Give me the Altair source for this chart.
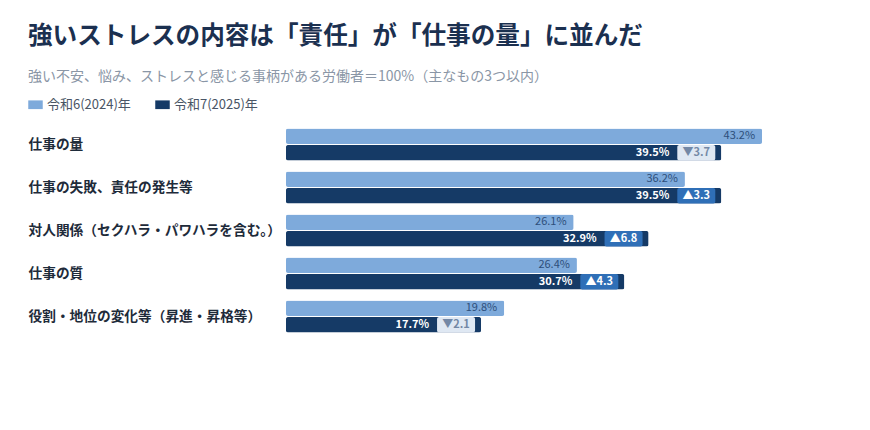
import altair as alt
import pandas as pd

categories = [
    "仕事の量",
    "仕事の失敗、責任の発生等",
    "対人関係（セクハラ・パワハラを含む。）",
    "仕事の質",
    "役割・地位の変化等（昇進・昇格等）",
]
years = ["令和6(2024)年", "令和7(2025)年"]
values_2024 = [43.2, 36.2, 26.1, 26.4, 19.8]
values_2025 = [39.5, 39.5, 32.9, 30.7, 17.7]

FONT = "Noto Sans CJK JP"
LIGHT = "#7eaadb"
DARK = "#153a66"

long = pd.DataFrame(
    {
        "category": categories * 2,
        "year": [years[0]] * len(categories) + [years[1]] * len(categories),
        "value": values_2024 + values_2025,
    }
)
long["label"] = [f"{v:.1f}%" for v in long["value"]]

wide = pd.DataFrame(
    {
        "category": categories,
        "year": years[1],
        "v2024": values_2024,
        "v2025": values_2025,
    }
)
wide["diff"] = (wide["v2025"] - wide["v2024"]).round(1)
wide["up"] = wide["diff"] > 0
wide["diff_label"] = [("▲" if d > 0 else "▼") + f"{abs(d):.1f}" for d in wide["diff"]]

y_enc = alt.Y(
    "category:N",
    sort=categories,
    scale=alt.Scale(paddingInner=0.26, paddingOuter=0.13),
    axis=alt.Axis(
        title=None,
        ticks=False,
        domain=False,
        labelAlign="left",
        labelPadding=258,
        labelLimit=260,
        labelFontSize=13.7,
        labelFontWeight="bold",
        labelColor="#1e2b3a",
        labelFont=FONT,
    ),
)
yoff_enc = alt.YOffset("year:N", sort=years, scale=alt.Scale(domain=years, paddingInner=0.06))
x_scale = alt.Scale(domain=[0, 50])

bars = (
    alt.Chart(long)
    .mark_bar(cornerRadius=2)
    .encode(
        x=alt.X("value:Q", scale=x_scale, axis=None),
        y=y_enc,
        yOffset=yoff_enc,
        color=alt.Color(
            "year:N",
            sort=years,
            scale=alt.Scale(domain=years, range=[LIGHT, DARK]),
            legend=alt.Legend(
                title=None,
                orient="none",
                legendX=-258,
                legendY=-26,
                direction="horizontal",
                symbolType="M-1,-0.6H1V0.6H-1Z",
                symbolSize=210,
                symbolStrokeWidth=0,
                labelFontSize=13,
                labelColor="#4a5565",
                labelFont=FONT,
                columnPadding=24,
            ),
        ),
    )
)

labels_2024 = (
    alt.Chart(long)
    .transform_filter(alt.datum.year == years[0])
    .mark_text(align="right", baseline="middle", dx=-7, fontSize=11, color="#2d4e7a", font=FONT)
    .encode(x=alt.X("value:Q", scale=x_scale), y=y_enc, yOffset=yoff_enc, text="label:N")
)

labels_2025 = (
    alt.Chart(long)
    .transform_filter(alt.datum.year == years[1])
    .mark_text(
        align="right", baseline="middle", dx=-52, fontSize=11, fontWeight="bold", color="white", font=FONT
    )
    .encode(x=alt.X("value:Q", scale=x_scale), y=y_enc, yOffset=yoff_enc, text="label:N")
)

diff_box = (
    alt.Chart(wide)
    .mark_bar(xOffset=-44, x2Offset=-6, cornerRadius=2)
    .encode(
        x=alt.X("v2025:Q", scale=x_scale),
        x2="v2025:Q",
        y=y_enc,
        yOffset=yoff_enc,
        color=alt.condition(alt.datum.up, alt.value("#2f6fb7"), alt.value("#dfe8f3")),
    )
)

diff_text = (
    alt.Chart(wide)
    .mark_text(align="center", baseline="middle", dx=-25, fontSize=11, fontWeight="bold", font=FONT)
    .encode(
        x=alt.X("v2025:Q", scale=x_scale),
        y=y_enc,
        yOffset=yoff_enc,
        text="diff_label:N",
        color=alt.condition(alt.datum.up, alt.value("white"), alt.value("#7388a6")),
    )
)

chart = (
    alt.layer(bars, labels_2024, labels_2025, diff_box, diff_text)
    .properties(
        width=551,
        height=215,
        padding={"left": 20, "top": 16, "right": 10, "bottom": 10},
        title=alt.TitleParams(
            text="強いストレスの内容は「責任」が「仕事の量」に並んだ",
            subtitle="強い不安、悩み、ストレスと感じる事柄がある労働者＝100%（主なもの3つ以内）",
            anchor="start",
            font=FONT,
            fontSize=24.6,
            fontWeight="bold",
            color="#1b3050",
            subtitleFont=FONT,
            subtitleFontSize=14,
            subtitleColor="#8a96a6",
            subtitlePadding=20,
            offset=12,
        ),
    )
    .configure_view(stroke=None)
)

chart.save("out.html", embed_options={"renderer": "svg", "actions": False})
